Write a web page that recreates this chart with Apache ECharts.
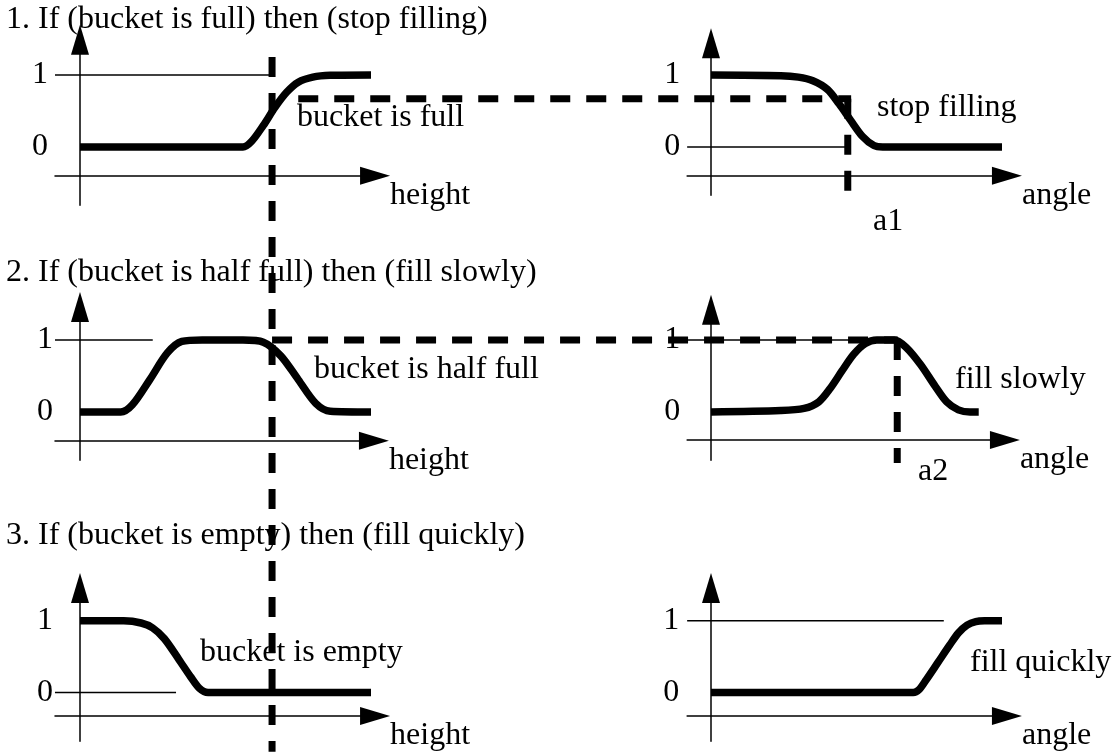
<!DOCTYPE html>
<html>
<head>
<meta charset="utf-8">
<script src="https://cdn.jsdelivr.net/npm/echarts@6/dist/echarts.min.js"></script>
<style>
  html, body { margin: 0; background: #fff; }
  #chart { width: 1116px; height: 752px; }
</style>
</head>
<body>
<div id="chart"></div>
<script>
// membership curves, [x, membership]
const bucketFull = [[0, 0], [5.6, 0], [5.9, 0.08], [6.3, 0.3], [6.7, 0.55], [7.1, 0.76], [7.5, 0.9], [8.0, 0.97], [8.6, 0.995], [10, 1]];
const stopFilling = [[0, 1], [2.4, 0.99], [3.0, 0.97], [3.5, 0.92], [4.0, 0.8], [4.4, 0.6], [4.8, 0.37], [5.2, 0.15], [5.6, 0.02], [5.9, 0], [10, 0]];
const bucketHalfFull = [[0, 0], [1.4, 0], [1.8, 0.1], [2.4, 0.45], [3.0, 0.82], [3.5, 0.98], [4.2, 1], [5.6, 1], [6.3, 0.97], [6.9, 0.78], [7.5, 0.45], [8.1, 0.12], [8.6, 0.01], [10, 0]];
const fillSlowly = [[0, 0], [2.4, 0.02], [3.2, 0.05], [3.7, 0.14], [4.1, 0.33], [4.5, 0.57], [4.9, 0.8], [5.3, 0.95], [5.7, 1], [6.3, 1], [6.7, 0.9], [7.2, 0.66], [7.7, 0.36], [8.1, 0.14], [8.5, 0.03], [8.9, 0], [9.2, 0]];
const bucketEmpty = [[0, 1], [1.5, 1], [2.1, 0.97], [2.5, 0.9], [2.9, 0.75], [3.4, 0.46], [3.8, 0.22], [4.1, 0.06], [4.4, 0], [10, 0]];
const fillQuickly = [[0, 0], [6.95, 0], [7.15, 0.04], [7.4, 0.18], [7.8, 0.42], [8.2, 0.66], [8.5, 0.83], [8.8, 0.94], [9.1, 0.99], [9.4, 1], [10, 1]];

// readings carried from panel to panel (dashed lines)
const heightReading = 6.6;          // vertical line through the left panels
const heightSpan = [1.25, -8.4];    // membership range it covers (top-left panel units)
const mu1 = 0.67;
const mu1Span = [7.5, 26.5];
const a1 = 4.7;
const mu2 = 1.0;
const mu2Span = [6.6, 28.1];
const a2 = 6.4;
const readingBottom = -0.71;

// text
const ruleTitles = [
  '1. If (bucket is full) then (stop filling)',
  '2. If (bucket is half full) then (fill slowly)',
  '3. If (bucket is empty) then (fill quickly)'
];
const curveNames = ['bucket is full', 'stop filling', 'bucket is half full', 'fill slowly', 'bucket is empty', 'fill quickly'];
const axisNames = ['height', 'angle', 'height', 'angle', 'height', 'angle'];
const tickLabels = [0, 1];

// thin guide at membership level, [level, from, to]
const guides = [[1, -0.86, 6.6], [0, -0.82, 4.7], [1, -0.86, 2.5], [1, -0.82, 6.0], [0, -0.86, 3.3], [1, -0.82, 8.0]];

// panel layout: origin in px, axis extents in panel units
const SX = 29.1, SY = 72;
const panels = [
  { ox: 80,  oy: 147, x: [-0.86, 10.14], y: [-0.81, 1.49], axisAt: -0.40, margin: 7 },
  { ox: 711, oy: 147, x: [-0.82, 10.17], y: [-0.67, 1.44], axisAt: -0.40, margin: 7 },
  { ox: 80,  oy: 412, x: [-0.86, 10.10], y: [-0.67, 1.46], axisAt: -0.40, margin: 2 },
  { ox: 711, oy: 412, x: [-0.82, 10.10], y: [-0.67, 1.42], axisAt: -0.39, margin: 7 },
  { ox: 80,  oy: 693, x: [-0.86, 10.14], y: [-0.68, 1.46], axisAt: -0.33, margin: 2 },
  { ox: 711, oy: 693, x: [-0.82, 10.17], y: [-0.68, 1.46], axisAt: -0.33, margin: 8 }
];
const curves = [bucketFull, stopFilling, bucketHalfFull, fillSlowly, bucketEmpty, fillQuickly];

const FONT = '"Liberation Serif", "Times New Roman", serif';

const grid = [], xAxis = [], yAxis = [], series = [];
panels.forEach((p, i) => {
  grid.push({
    left: p.ox + p.x[0] * SX,
    width: (p.x[1] - p.x[0]) * SX,
    top: p.oy - p.y[1] * SY,
    height: (p.y[1] - p.y[0]) * SY
  });
  xAxis.push({
    gridIndex: i, type: 'value', min: p.x[0], max: p.x[1],
    offset: -(p.axisAt - p.y[0]) * SY,
    name: axisNames[i], nameLocation: 'end', nameGap: 15,
    nameTextStyle: { color: '#000', fontFamily: FONT, fontSize: 32, align: 'left', verticalAlign: 'top', padding: [4, 0, 0, 0] },
    axisLine: { onZero: false, symbol: ['none', 'triangle'], symbolSize: [18, 30], lineStyle: { color: '#000', width: 1.5 } },
    axisTick: { show: false }, axisLabel: { show: false }, splitLine: { show: false }
  });
  yAxis.push({
    gridIndex: i, type: 'value', min: p.y[0], max: p.y[1],
    axisLine: { onZero: true, symbol: ['none', 'triangle'], symbolSize: [18, 30], lineStyle: { color: '#000', width: 1.5 } },
    axisTick: { show: false }, splitLine: { show: false },
    axisLabel: { customValues: tickLabels, margin: p.margin, color: '#000', fontFamily: FONT, fontSize: 32 }
  });
  const g = guides[i];
  series.push({
    type: 'line', xAxisIndex: i, yAxisIndex: i, silent: true, symbol: 'none',
    data: [[g[1], g[0]], [g[2], g[0]]],
    lineStyle: { color: '#000', width: 1.5 }
  });
  series.push({
    type: 'line', xAxisIndex: i, yAxisIndex: i, silent: true, symbol: 'none',
    smooth: 0.3, data: curves[i],
    lineStyle: { color: '#000', width: 7.5, join: 'round' }
  });
});

function text(str, x, y) {
  return { type: 'text', x: x, y: y, z: 10, silent: true,
    style: { text: str, fill: '#000', fontFamily: FONT, fontSize: 32, verticalAlign: 'middle', align: 'left' } };
}
const graphic = [
  text(ruleTitles[0], 6, 20),
  text(ruleTitles[1], 6, 273),
  text(ruleTitles[2], 6, 536),
  text(curveNames[0], 297, 118),
  text(curveNames[1], 877, 108),
  text(curveNames[2], 314, 370),
  text(curveNames[3], 955, 380),
  text(curveNames[4], 200, 653),
  text(curveNames[5], 970, 663),
  text('a1', 873, 222),
  text('a2', 918, 472)
];

const chart = echarts.init(document.getElementById('chart'));
chart.setOption({
  animation: false,
  backgroundColor: '#fff',
  grid: grid,
  xAxis: xAxis,
  yAxis: yAxis,
  series: series,
  graphic: graphic
});

// the dashed readings cross several panels, so they are placed through each
// panel's own scales and drawn on top
function dashed(i, from, to) {
  return {
    type: 'polyline', z: 20, silent: true,
    shape: { points: [chart.convertToPixel({ gridIndex: i }, from), chart.convertToPixel({ gridIndex: i }, to)] },
    style: { stroke: '#000', lineWidth: 7, lineDash: [20, 16], fill: null }
  };
}
chart.setOption({
  graphic: graphic.concat([
    dashed(0, [heightReading, heightSpan[0]], [heightReading, heightSpan[1]]),
    dashed(0, [mu1Span[0], mu1], [mu1Span[1], mu1]),
    dashed(1, [a1, mu1], [a1, readingBottom]),
    dashed(2, [mu2Span[0], mu2], [mu2Span[1], mu2]),
    dashed(3, [a2, mu2], [a2, readingBottom])
  ])
});
</script>
</body>
</html>
